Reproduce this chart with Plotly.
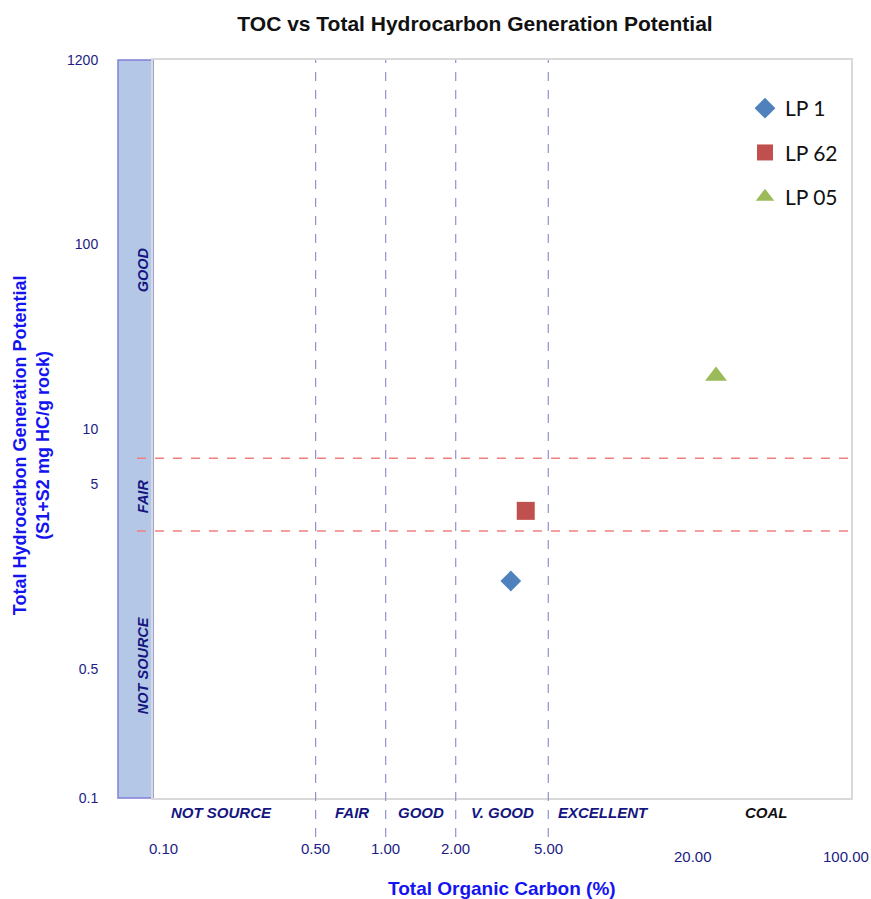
import math
import plotly.graph_objects as go

# Sample data: TOC (%) and S1+S2 (mg HC/g rock)
samples = ["LP 1", "LP 62", "LP 05"]
toc = [3.45, 4.0, 26.3]
s1s2 = [1.5, 3.6, 19.4]
symbols = ["diamond", "square", "triangle-up"]
colors = ["#4F81BD", "#C0504D", "#9BBB59"]
sizes = [16, 18, 19]

# Classification thresholds
toc_limits = [0.5, 1.0, 2.0, 5.0]
s1s2_limits = [2.8, 6.95]

# Axis tick labels
x_tick_vals = [0.1, 0.5, 1.0, 2.0, 5.0, 20.0, 100.0]
x_tick_text = ["0.10", "0.50", "1.00", "2.00", "5.00", "20.00", "100.00"]
y_tick_vals = [0.1, 0.5, 5, 10, 100, 1000]
y_tick_text = ["0.1", "0.5", "5", "10", "100", "1200"]

# TOC class labels (label, centre value, colour)
toc_classes = ["NOT SOURCE", "FAIR", "GOOD", "V. GOOD", "EXCELLENT", "COAL"]
toc_class_pos = [0.196, 0.716, 1.42, 3.19, 8.67, 43.5]
toc_class_col = ["#15157F"] * 5 + ["#111111"]

# Generation potential class labels (label, paper y)
gp_classes = ["GOOD", "FAIR", "NOT SOURCE"]
gp_class_y = [0.715, 0.409, 0.180]

NAVY = "#1C1C84"
BLUE = "#1414F0"
FONT = "Liberation Sans, Arial, sans-serif"

fig = go.Figure()
for name, x, y, sym, col, sz in zip(samples, toc, s1s2, symbols, colors, sizes):
    fig.add_trace(go.Scatter(
        x=[x], y=[y], mode="markers", name=name, legendgroup=name,
        marker=dict(symbol=sym, color=col, size=sz, line=dict(width=0)),
    ))

shapes = []
# shaded band left of the plot
shapes.append(dict(type="rect", xref="paper", yref="paper",
                   x0=-35 / 698, x1=0, y0=0, y1=1,
                   fillcolor="#B4C7E7", line=dict(color="#8080D8", width=1.5),
                   layer="below"))
for v in toc_limits:
    shapes.append(dict(type="line", xref="x", yref="paper",
                       x0=v, x1=v, y0=-0.053, y1=1,
                       line=dict(color="#9090D0", width=1.2, dash="dash")))
for v in s1s2_limits:
    shapes.append(dict(type="line", xref="paper", yref="y",
                       x0=-0.023, x1=1, y0=v, y1=v,
                       line=dict(color="#F08080", width=1.5, dash="dash")))

annotations = []
for lab, pos, col in zip(toc_classes, toc_class_pos, toc_class_col):
    annotations.append(dict(text=f"<b><i>{lab}</i></b>", x=math.log10(pos), xref="x",
                            y=-0.020, yref="paper", showarrow=False,
                            font=dict(family=FONT, size=15, color=col),
                            xanchor="center", yanchor="middle"))
for lab, yp in zip(gp_classes, gp_class_y):
    annotations.append(dict(text=f"<b><i>{lab}</i></b>", x=-0.0143, xref="paper",
                            y=yp, yref="paper", showarrow=False, textangle=-90,
                            font=dict(family=FONT, size=14.5, color="#15157F"),
                            xanchor="center", yanchor="middle"))
for v, t in zip(x_tick_vals, x_tick_text):
    low = v >= 20
    shift = {0.1: 10, 20.0: 5, 100.0: -5}.get(v, 0)
    annotations.append(dict(text=t, x=math.log10(v), xref="x", xshift=shift,
                            y=-(58 if low else 50) / 738, yref="paper",
                            showarrow=False, font=dict(family=FONT, size=15, color=NAVY),
                            xanchor="center", yanchor="middle"))
annotations.append(dict(text="<b>Total Organic Carbon (%)</b>", x=0.5, xref="paper",
                        y=-90 / 738, yref="paper", showarrow=False,
                        font=dict(family=FONT, size=19, color=BLUE),
                        xanchor="center", yanchor="middle"))
annotations.append(dict(text="<b>Total Hydrocarbon Generation Potential<br>(S1+S2 mg HC/g rock)</b>",
                        x=-122 / 698, xref="paper", y=0.478, yref="paper",
                        showarrow=False, textangle=-90,
                        font=dict(family=FONT, size=18, color=BLUE),
                        xanchor="center", yanchor="middle"))

fig.update_layout(
    width=871, height=899,
    margin=dict(l=153, r=20, t=60, b=101),
    paper_bgcolor="white", plot_bgcolor="white",
    title=dict(text="<b>TOC vs Total Hydrocarbon Generation Potential</b>",
               x=475 / 871, xanchor="center", y=1 - 24 / 899, yanchor="middle",
               font=dict(family=FONT, size=21, color="#111111")),
    xaxis=dict(type="log", range=[-1, 2], showgrid=False, zeroline=False,
               showticklabels=False, ticks="",
               showline=True, mirror=True, linecolor="#D9D9D9", linewidth=2),
    yaxis=dict(type="log", range=[-1, 3], showgrid=False, zeroline=False,
               tickvals=y_tick_vals, ticktext=y_tick_text, ticks="",
               ticklabelstandoff=50,
               tickfont=dict(family=FONT, size=14, color=NAVY),
               showline=True, mirror=True, linecolor="#D9D9D9", linewidth=2),
    legend=dict(x=(745 - 153) / 698, y=(798 - 88) / 738, xanchor="left", yanchor="top",
                bgcolor="rgba(0,0,0,0)", tracegroupgap=14,
                font=dict(family="Lato, Open Sans, sans-serif", size=21, color="#111111"),
                itemsizing="trace"),
    showlegend=True,
    shapes=shapes,
    annotations=annotations,
)

fig.write_html("out.html")
